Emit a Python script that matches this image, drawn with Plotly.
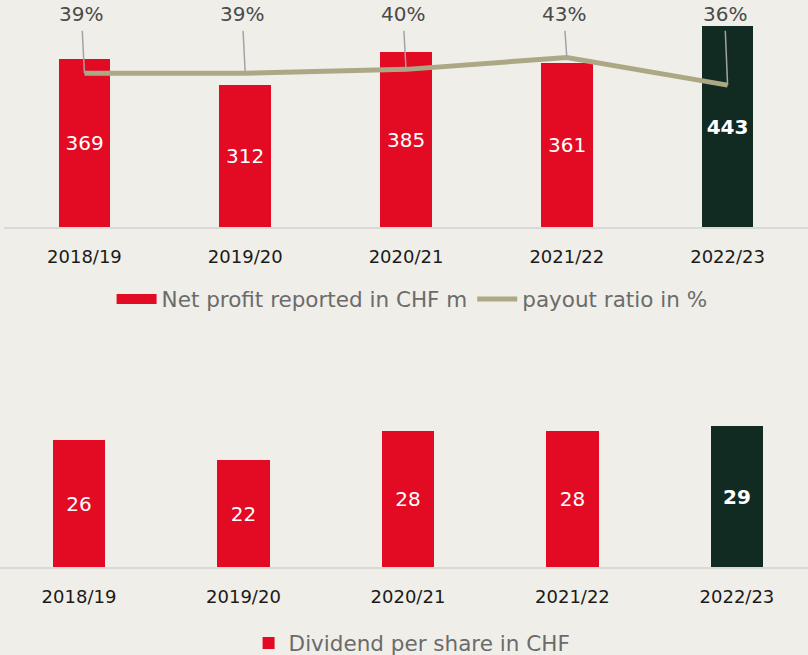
"""Net profit / payout ratio and dividend per share chart."""

import plotly.graph_objects as go

YEARS = ["2018/19", "2019/20", "2020/21", "2021/22", "2022/23"]
NET_PROFIT = [369, 312, 385, 361, 443]
PAYOUT_RATIO = [39, 39, 40, 43, 36]
DIVIDEND = [26, 22, 28, 28, 29]

RED = "#e30a23"
DARK = "#112b22"
TAN = "#aca886"
BG = "#f0eee8"
FONT = "DejaVu Sans"

bar_colors = [RED] * (len(YEARS) - 1) + [DARK]


def _bar_text(values):
    # last bar (current year) in bold
    texts = [str(v) for v in values]
    texts[-1] = f"<b>{texts[-1]}</b>"
    return texts


fig = go.Figure()

# top: net profit bars
fig.add_trace(go.Bar(
    x=YEARS,
    y=NET_PROFIT,
    marker={"color": bar_colors, "line": {"width": 0}},
    width=0.32,
    text=_bar_text(NET_PROFIT),
    textposition="inside",
    insidetextanchor="middle",
    textangle=0,
    constraintext="none",
    textfont={"color": "white", "size": 20, "family": FONT},
    showlegend=False,
    hoverinfo="skip",
    xaxis="x",
    yaxis="y",
))

# legend stand-in for the wide red swatch
fig.add_trace(go.Scatter(
    x=[None],
    y=[None],
    mode="lines",
    line={"color": RED, "width": 10},
    name="Net profit reported in CHF m",
    legend="legend",
    xaxis="x",
    yaxis="y",
))

fig.add_trace(go.Scatter(
    x=YEARS,
    y=PAYOUT_RATIO,
    mode="lines",
    line={"color": TAN, "width": 5},
    name="payout ratio in %",
    legend="legend",
    xaxis="x",
    yaxis="y2",
))

# bottom: dividend per share
fig.add_trace(go.Bar(
    x=YEARS,
    y=DIVIDEND,
    marker={"color": bar_colors, "line": {"width": 0}},
    width=0.32,
    text=_bar_text(DIVIDEND),
    textposition="inside",
    insidetextanchor="middle",
    textangle=0,
    constraintext="none",
    textfont={"color": "white", "size": 20, "family": FONT},
    name="Dividend per share in CHF",
    legend="legend2",
    xaxis="x2",
    yaxis="y3",
))

# payout labels with leader lines
for year, ratio in zip(YEARS, PAYOUT_RATIO):
    fig.add_annotation(
        x=year,
        y=ratio,
        xref="x",
        yref="y2",
        text=f"{ratio}%",
        showarrow=True,
        arrowhead=0,
        arrowwidth=1.5,
        arrowcolor="#a3a3a3",
        axref="pixel",
        ax=-3,
        ayref="y2",
        ay=54,
        borderpad=4,
        font={"color": "#4a4a4a", "size": 20, "family": FONT},
    )

axis_common = {
    "showgrid": False,
    "zeroline": False,
    "showline": True,
    "linecolor": "#d9d9d9",
    "linewidth": 2,
    "ticks": "",
    "ticklabelstandoff": 12,
    "tickfont": {"color": "#1a1a1a", "size": 18, "family": FONT},
    "fixedrange": True,
}

legend_font = {"color": "#6b6b6b", "size": 21.5, "family": FONT}

fig.update_layout(
    width=808,
    height=655,
    margin={"l": 0, "r": 0, "t": 0, "b": 0, "autoexpand": False},
    paper_bgcolor=BG,
    plot_bgcolor=BG,
    font={"family": FONT},
    bargap=0,
    xaxis={**axis_common, "domain": [0.005, 1.0], "range": [-0.5, 4.5],
           "anchor": "y"},
    yaxis={"domain": [0.6534, 1.0], "range": [0, 500], "visible": False},
    yaxis2={"domain": [0.6534, 1.0], "range": [0, 57.6], "visible": False,
            "overlaying": "y", "anchor": "x"},
    xaxis2={**axis_common, "domain": [0.0, 1.0], "range": [-0.48, 4.432],
            "anchor": "y3"},
    yaxis3={"domain": [0.1344, 0.4656], "range": [0, 44.6], "visible": False,
            "anchor": "x2"},
    legend={
        "orientation": "h",
        "x": 0.51,
        "xanchor": "center",
        "y": 0.5435,
        "yanchor": "middle",
        "bgcolor": "rgba(0,0,0,0)",
        "font": legend_font,
        "itemwidth": 40,
    },
    legend2={
        "orientation": "h",
        "x": 0.51,
        "xanchor": "center",
        "y": 0.0183,
        "yanchor": "middle",
        "bgcolor": "rgba(0,0,0,0)",
        "font": legend_font,
    },
)

fig.write_html(
    "out.html",
    config={"displayModeBar": False},
    post_script="document.body.style.margin='0';"
                "document.body.style.overflow='hidden';",
)
